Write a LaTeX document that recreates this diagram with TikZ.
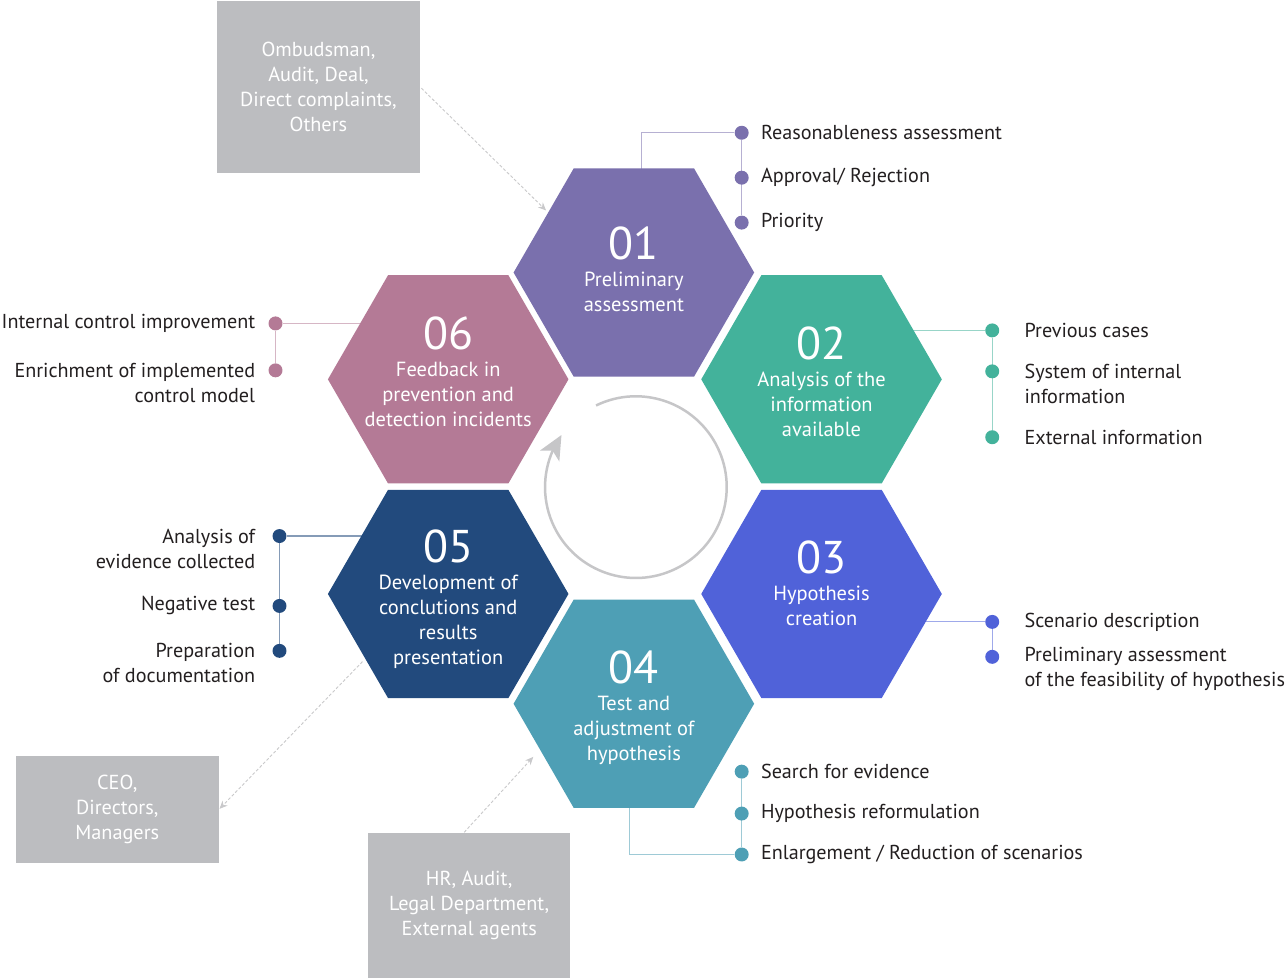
\documentclass[tikz,border=0pt]{standalone}
\usepackage{fontspec}
\setmainfont{PT Sans}
\usetikzlibrary{shapes.geometric}
\usetikzlibrary{arrows.meta}
\usetikzlibrary{bending}
\usetikzlibrary{positioning}
\usetikzlibrary{backgrounds}
\definecolor{c01}{HTML}{7A70AD}
\definecolor{c02}{HTML}{43B29B}
\definecolor{c03}{HTML}{5062D9}
\definecolor{c04}{HTML}{4E9FB5}
\definecolor{c05}{HTML}{224A7D}
\definecolor{c06}{HTML}{B47A96}
\definecolor{boxgray}{HTML}{BCBDC0}
\definecolor{dashgray}{HTML}{C9C9CB}
\definecolor{ringgray}{HTML}{C6C6C8}
\definecolor{inkblack}{HTML}{231F20}
\newcommand{\stepnum}[1]{{\fontsize{46}{46}\selectfont #1}}
\tikzset {
  % one step of the cycle
  hex/.style = {
    regular polygon,
    regular polygon sides = 6,
    minimum size = 241pt,
    inner sep = 0,
    outer sep = 0,
    fill = #1
  },
  % number and title inside a step
  steptext/.style = {
    anchor = north,
    text = white,
    align = center,
    inner sep = 0,
    font = \fontsize{20.5}{25}\selectfont
  },
  % bullet point
  bullet/.style = {
    circle,
    fill = #1,
    minimum size = 14pt,
    inner sep = 0
  },
  % bullet text, left or right of the bullet
  item/.style = {
    inner sep = 0,
    text = inkblack,
    align = left,
    font = \fontsize{20.2}{25}\selectfont
  },
  ritem/.style = {
    item,
    align = right
  },
  % line from a step to its bullets
  link/.style = {
    draw = #1!55,
    line width = 1.2pt
  }
}
\tikzset {
  % grey box of people involved
  actor/.style = {
    fill = boxgray,
    text = white,
    align = center,
    minimum width = 203pt,
    inner sep = 0,
    font = \fontsize{20.3}{25}\selectfont
  },
  % dashed arrow to or from a grey box
  feed/.style = {
    draw = dashgray,
    line width = 0.9pt,
    dash pattern = on 3pt off 2pt,
    -{Stealth[length = 8pt, width = 7pt]}
  },
  % ring in the middle
  round arrow/.style = {
    draw = ringgray,
    line width = 2.5pt,
    -{Stealth[length = 24pt, width = 22pt, inset = 6pt, flex]}
  },
  node distance = 12pt
}

\begin{document}
\begin{tikzpicture}[x = 1pt, y = -1pt]
  % steps
  \node[hex = c01] (h01) at (635,273) {};
  \node[hex = c02] (h02) at (823,380) {};
  \node[hex = c03] (h03) at (823,595) {};
  \node[hex = c04] (h04) at (635,705) {};
  \node[hex = c05] (h05) at (449,595) {};
  \node[hex = c06] (h06) at (449,380) {};

  \node[steptext] (t01) at ([yshift = 46pt]h01.center) {\stepnum{01}\\[2pt]Preliminary\\assessment};
  \node[steptext] (t02) at ([yshift = 53pt]h02.center) {\stepnum{02}\\[2pt]Analysis of the\\information\\available};
  \node[steptext] (t03) at ([yshift = 53pt]h03.center) {\stepnum{03}\\[2pt]Hypothesis\\creation};
  \node[steptext] (t04) at ([yshift = 53pt]h04.center) {\stepnum{04}\\[2pt]Test and\\adjustment of\\hypothesis};
  \node[steptext] (t05) at ([yshift = 64pt]h05.center) {\stepnum{05}\\[2pt]Development of\\conclutions and\\results\\presentation};
  \node[steptext] (t06) at ([yshift = 63pt]h06.center) {\stepnum{06}\\[2pt]Feedback in\\prevention and\\detection incidents};

  % bullets of each step
  \node[bullet = c01] (b11) at (743,133) {};
  \node[bullet = c01] (b12) at (743,178) {};
  \node[bullet = c01] (b13) at (743,223) {};
  \node[item, right = of b11] (l11) {Reasonableness assessment};
  \node[item, right = of b12] (l12) {Approval/ Rejection};
  \node[item, right = of b13] (l13) {Priority};

  \node[bullet = c02] (b21) at (994,331) {};
  \node[bullet = c02] (b22) at (994,372) {};
  \node[bullet = c02] (b23) at (994,438) {};
  \node[item, right = 25pt of b21] (l21) {Previous cases};
  \node[item, right = 25pt of b22, yshift = -12.5pt] (l22) {System of internal\\information};
  \node[item, right = 25pt of b23] (l23) {External information};

  \node[bullet = c03] (b31) at (994,623) {};
  \node[bullet = c03] (b32) at (994,658) {};
  \node[item, right = 25pt of b31] (l31) {Scenario description};
  \node[item, right = 25pt of b32, yshift = -12.5pt] (l32) {Preliminary assessment\\of the feasibility of hypothesis};

  \node[bullet = c04] (b41) at (743,773) {};
  \node[bullet = c04] (b42) at (743,815) {};
  \node[bullet = c04] (b43) at (743,856) {};
  \node[item, right = of b41] (l41) {Search for evidence};
  \node[item, right = of b42] (l42) {Hypothesis reformulation};
  \node[item, right = of b43] (l43) {Enlargement / Reduction of scenarios};

  \node[bullet = c05] (b51) at (280,537) {};
  \node[bullet = c05] (b52) at (280,607) {};
  \node[bullet = c05] (b53) at (280,652) {};
  \node[ritem, left = 17pt of b51, yshift = -12.5pt] (l51) {Analysis of\ \\evidence collected};
  \node[ritem, left = 17pt of b52] (l52) {Negative test};
  \node[ritem, left = 17pt of b53, yshift = -12.5pt] (l53) {Preparation\ \\of documentation};

  \node[bullet = c06] (b61) at (276,324) {};
  \node[bullet = c06] (b62) at (276,371) {};
  \node[ritem, left = 13pt of b61] (l61) {Internal control improvement};
  \node[ritem, left = 13pt of b62, yshift = -12.5pt] (l62) {Enrichment of implemented\\control model};

  % people involved
  \node[actor, minimum height = 172pt] (src) at (319,87) {Ombudsman,\\Audit, Deal,\\Direct complaints,\\Others};
  \node[actor, minimum height = 108pt] (mgmt) at (117.5,811) {CEO,\\Directors,\\Managers};
  \node[actor, minimum height = 146pt] (ext) at (470,907) {HR, Audit,\\Legal Department,\\External agents};

  \draw[feed, shorten <= 2pt, shorten >= 3pt] (src.east) -- (h01.145);
  \draw[feed, shorten <= 4pt, shorten >= 1pt] (h05.218) -- (mgmt.east);
  \draw[feed, shorten >= 10pt] ([xshift = -5pt]ext.north) -- (h04.206);

  % ring
  \coordinate (mid) at (637,488);
  \draw[round arrow] (mid) ++(244:91) arc[start angle = 244, end angle = 575, radius = 91];

  \begin{scope}[on background layer]
    \fill[white] (0,0) rectangle (1285,980);
    \draw[link = c01] ([xshift = 8pt]h01.center) |- (b11);
    \draw[link = c01] (b11) -- (b13);
    \draw[link = c02] (h02.center |- b21) -- (b21);
    \draw[link = c02] (b21) -- (b23);
    \draw[link = c03] (h03.center |- b31) -- (b31);
    \draw[link = c03] (b31) -- (b32);
    \draw[link = c04] ([xshift = -4pt]h04.center) |- (b43);
    \draw[link = c04] (b41) -- (b43);
    \draw[link = c05] (h05.center |- b51) -- (b51);
    \draw[link = c05] (b51) -- (b53);
    \draw[link = c06] (h06.center |- b61) -- (b61);
    \draw[link = c06] (b61) -- (b62);
  \end{scope}
\end{tikzpicture}
\end{document}
